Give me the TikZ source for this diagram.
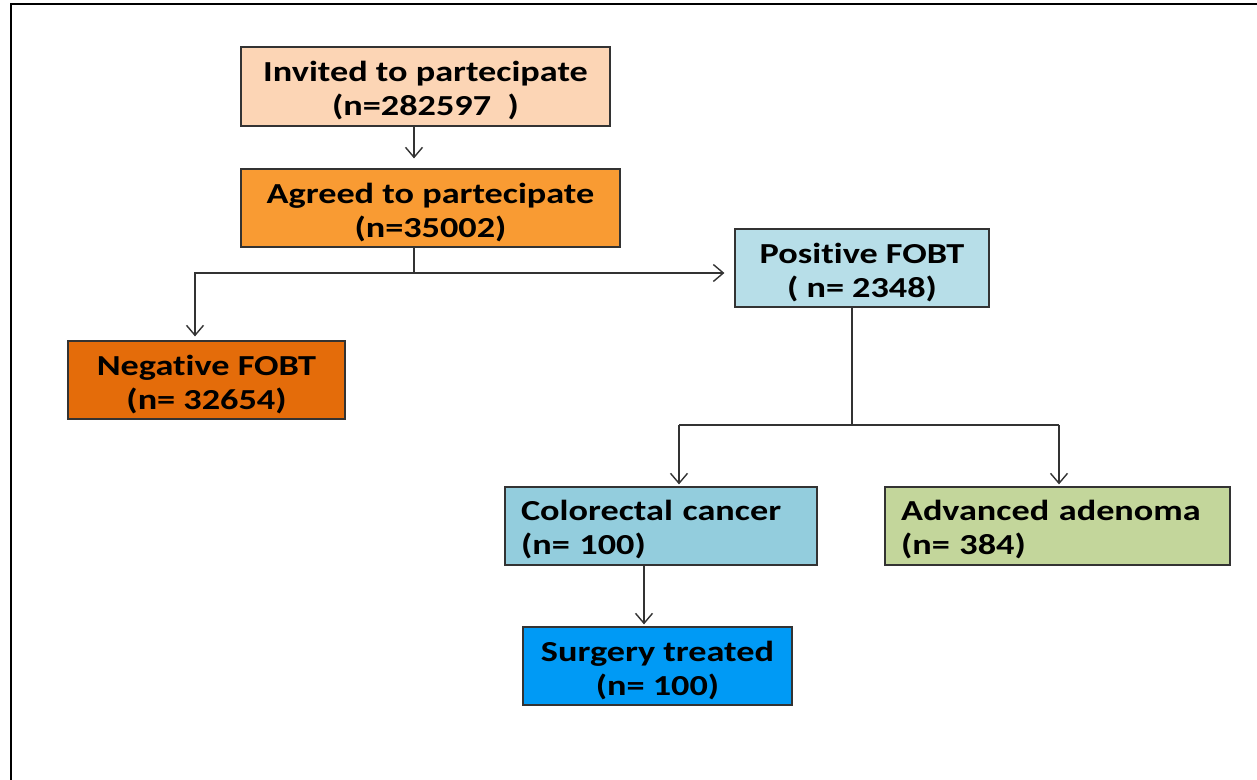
\documentclass[tikz,border=0pt]{standalone}
\usepackage{fontspec}
\setmainfont{Carlito}[FakeStretch=1.25, Ligatures=NoCommon]
\usetikzlibrary{arrows.meta}
\definecolor{cinv}{HTML}{FCD5B5}
\definecolor{cagr}{HTML}{F99B33}
\definecolor{cneg}{HTML}{E46C0A}
\definecolor{cpos}{HTML}{B7DEE8}
\definecolor{ccol}{HTML}{93CDDD}
\definecolor{cadv}{HTML}{C3D69B}
\definecolor{csur}{HTML}{009AF5}
\definecolor{cline}{HTML}{333333}
\tikzset{
  box/.style={draw=cline, line width=0.7pt, inner sep=0pt, minimum height=1.56cm,
    font=\fontsize{16.5}{19.3}\selectfont\bfseries, align=center},
  lbox/.style={box, align=left, inner xsep=0.32cm,
    execute at begin node={\rule{0pt}{15.8pt}}},
  conn/.style={draw=cline, line width=0.8pt},
  arr/.style={conn, -{Straight Barb[length=2mm,width=3.4mm]}},
}
\newcommand{\upstrut}{\rule{0pt}{16.5pt}}
\begin{document}
\begin{tikzpicture}[x=0.02cm, y=-0.02cm]
\useasboundingbox (0,0) rectangle (1257,780);
\draw[line width=1.7pt, black] (11,900) -- (11,4) -- (1400,4);
\node[box, fill=cinv, minimum width=7.38cm, minimum height=1.58cm] (inv) at (425.5,86.5) {\upstrut Invited to partecipate\\(n=282597\ \ )};
\node[box, fill=cagr, minimum width=7.58cm] (agr) at (430.5,208) {\upstrut Agreed to partecipate\\(n=35002)};
\node[box, fill=cpos, minimum width=5.08cm] (pos) at (862,268) {\upstrut Positive FOBT\\( n= 2348)};
\node[box, fill=cneg, minimum width=5.54cm] (neg) at (206.5,380) {\upstrut Negative FOBT\\(n= 32654)};
\node[lbox, fill=ccol, text width=5.6cm] (col) at (661,526) {Colorectal cancer\\(n= 100)};
\node[lbox, fill=cadv, text width=6.26cm] (adv) at (1057.5,526) {Advanced adenoma\\(n= 384)};
\node[box, fill=csur, minimum width=5.38cm] (sur) at (657.5,666) {\upstrut Surgery treated\\(n= 100)};
\coordinate (j1) at (414,273);
\coordinate (nl) at (195,273);
\coordinate (j2) at (852,425);
\coordinate (cl) at (679,425);
\coordinate (cr) at (1059,425);
\coordinate (sx) at (644,600);
\draw[arr, shorten >=0.2cm] (inv.south -| j1) -- (agr.north -| j1);
\draw[conn] (agr.south -| j1) -- (j1);
\draw[arr, shorten >=0.08cm] (j1) -- (nl) -- (neg.north -| nl);
\draw[arr, shorten >=0.2cm] (j1) -- (pos.west |- j1);
\draw[conn] (pos.south -| j2) -- (j2);
\draw[conn] (cl) -- (cr);
\draw[arr, shorten >=0.04cm] (cl) -- (col.north -| cl);
\draw[arr, shorten >=0.04cm] (cr) -- (adv.north -| cr);
\draw[arr, shorten >=0.04cm] (col.south -| sx) -- (sur.north -| sx);
\end{tikzpicture}
\end{document}
